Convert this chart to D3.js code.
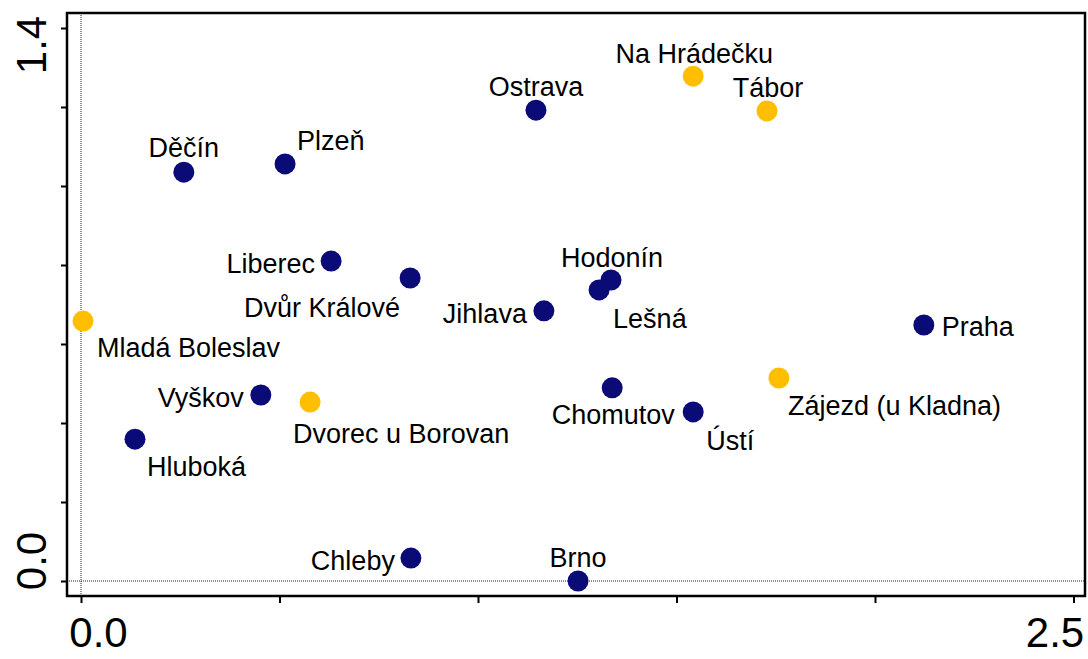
<!DOCTYPE html>
<html>
<head>
<meta charset="utf-8">
<script src="https://cdn.jsdelivr.net/npm/d3@7"></script>
<style>
  body { margin: 0; background: #fff; }
  svg { display: block; font-family: "Liberation Sans", Arial, sans-serif; }
</style>
</head>
<body>
<div id="chart"></div>
<script>

var names = ["Mladá Boleslav", "Hluboká", "Děčín", "Plzeň", "Vyškov", "Dvorec u Borovan",
    "Liberec", "Dvůr Králové", "Chleby", "Ostrava", "Jihlava", "Brno", "Hodonín", "Lešná",
    "Chomutov", "Na Hrádečku", "Tábor", "Ústí", "Zájezd (u Kladna)", "Praha"];
var xs = [0.005, 0.136, 0.259, 0.514, 0.453, 0.577, 0.630, 0.829, 0.831, 1.146, 1.166, 1.252,
    1.335, 1.305, 1.338, 1.542, 1.728, 1.542, 1.758, 2.123];
var ys = [0.658, 0.359, 1.035, 1.056, 0.471, 0.453, 0.810, 0.767, 0.058, 1.192, 0.684, 0.000,
    0.762, 0.737, 0.489, 1.278, 1.190, 0.428, 0.514, 0.648];
var groups = ["b", "a", "a", "a", "a", "b", "a", "a", "a", "a", "a", "a",
    "a", "a", "a", "b", "b", "a", "b", "a"];
var xTicks = [0, 0.5, 1, 1.5, 2, 2.5];
var yTicks = [0, 0.2, 0.4, 0.6, 0.8, 1.0, 1.2, 1.4];

// label placement: anchor, dx, dy (baseline) relative to the point
var labelPos = [
    ["start", 14, 36], ["start", 12, 37], ["middle", 0, -15], ["start", 12, -14],
    ["end", -17, 12], ["start", -17, 41], ["end", -16, 12], ["end", -10, 39],
    ["end", -16, 12], ["middle", 0, -14], ["end", -17, 12], ["middle", 0, -14],
    ["middle", 1, -13], ["start", 14, 38], ["middle", 1, 36], ["middle", 1, -13],
    ["middle", 1, -14], ["start", 13, 38], ["start", 9, 37], ["start", 18, 11]
];

var colors = {a: "#0b0b78", b: "#ffbf00"};

var data = names.map((n, i) => ({name: n, x: xs[i], y: ys[i], g: groups[i], lp: labelPos[i]}));

var W = 1088, H = 659;
var box = {left: 67, top: 13, right: 1085, bottom: 596};

var svg = d3.select("#chart").append("svg")
    .attr("width", W)
    .attr("height", H);

var x = d3.scaleLinear().domain([0, 2.5]).range([81, 1073.5]);
var y = d3.scaleLinear().domain([0, 1.4]).range([581, 28]);

// dotted zero lines
svg.append("line")
    .attr("x1", x(0)).attr("x2", x(0))
    .attr("y1", box.top).attr("y2", box.bottom)
    .attr("stroke", "#222").attr("stroke-width", 1).attr("stroke-dasharray", "1,1");
svg.append("line")
    .attr("x1", box.left).attr("x2", box.right)
    .attr("y1", y(0)).attr("y2", y(0))
    .attr("stroke", "#222").attr("stroke-width", 1).attr("stroke-dasharray", "1,1");

var lastX = xTicks.length - 1, lastY = yTicks.length - 1;

var xAxis = svg.append("g")
    .attr("transform", "translate(0," + box.bottom + ")")
    .call(d3.axisBottom(x).tickValues(xTicks).tickSizeOuter(0).tickSize(7).tickPadding(14)
        .tickFormat((d, i) => (i == 0 || i == lastX) ? d3.format(".1f")(d) : ""));
xAxis.select(".domain").remove();
xAxis.selectAll("line").attr("stroke", "#000").attr("stroke-width", 2);
xAxis.selectAll("text")
    .attr("font-size", 42).attr("font-family", "Liberation Sans, Arial, sans-serif").attr("fill", "#000")
    .attr("dx", (d, i) => i == 0 ? 17 : (i == lastX ? -19 : 0));

var yAxis = svg.append("g")
    .attr("transform", "translate(" + box.left + ",0)")
    .call(d3.axisLeft(y).tickValues(yTicks).tickSizeOuter(0).tickSize(6)
        .tickFormat(""));
yAxis.select(".domain").remove();
yAxis.selectAll("line").attr("stroke", "#000").attr("stroke-width", 2);

svg.selectAll(".ylab")
    .data([yTicks[0], yTicks[lastY]])
    .enter().append("text")
    .attr("class", "ylab")
    .attr("transform", (d, i) => "translate(46," + (y(d) + (i == 0 ? -20 : 17)) + ") rotate(-90)")
    .attr("text-anchor", "middle")
    .attr("font-size", 42)
    .text(d => d3.format(".1f")(d));

// box
svg.append("rect")
    .attr("x", box.left).attr("y", box.top)
    .attr("width", box.right - box.left).attr("height", box.bottom - box.top)
    .attr("fill", "none").attr("stroke", "#000").attr("stroke-width", 2.5);

var pt = svg.append("g").selectAll("g")
    .data(data)
    .enter().append("g")
    .attr("transform", d => "translate(" + x(d.x) + "," + y(d.y) + ")");

pt.append("circle")
    .attr("r", 10.5)
    .attr("fill", d => colors[d.g]);

pt.append("text")
    .attr("text-anchor", d => d.lp[0])
    .attr("x", d => d.lp[1])
    .attr("y", d => d.lp[2])
    .attr("font-size", 27)
    .attr("fill", "#000")
    .text(d => d.name);

</script>
</body>
</html>
